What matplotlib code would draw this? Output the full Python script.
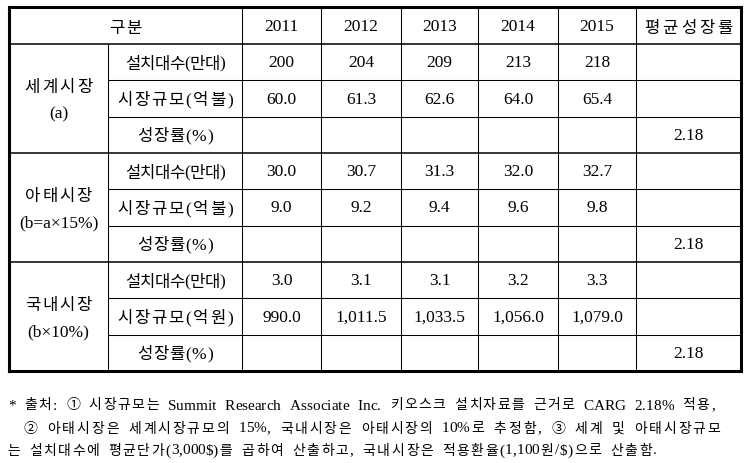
import matplotlib
matplotlib.use("Agg")
import matplotlib.pyplot as plt

plt.rcParams['font.family'] = ['Liberation Serif', 'Noto Sans CJK KR', 'DejaVu Sans']

# ---- data ----
header_label = "구분"
years = ["2011", "2012", "2013", "2014", "2015"]
avg_header = "평균성장률"
groups = [["세계시장", "(a)"], ["아태시장", "(b=a×15%)"], ["국내시장", "(b×10%)"]]
row_labels = [["설치대수(만대)", "시장규모(억불)", "성장률(%)"],
              ["설치대수(만대)", "시장규모(억불)", "성장률(%)"],
              ["설치대수(만대)", "시장규모(억원)", "성장률(%)"]]
world_units = ["200", "204", "209", "213", "218"]
world_size = ["60.0", "61.3", "62.6", "64.0", "65.4"]
apac_units = ["30.0", "30.7", "31.3", "32.0", "32.7"]
apac_size = ["9.0", "9.2", "9.4", "9.6", "9.8"]
kr_units = ["3.0", "3.1", "3.1", "3.2", "3.3"]
kr_size = ["990.0", "1,011.5", "1,033.5", "1,056.0", "1,079.0"]
growth = ["2.18", "2.18", "2.18"]
footnote = ["* 출처: ① 시장규모는 Summit Research Associate Inc. 키오스크 설치자료를 근거로 CARG 2.18% 적용,",
            "② 아태시장은 세계시장규모의 15%, 국내시장은 아태시장의 10%로 추정함, ③ 세계 및 아태시장규모",
            "는 설치대수에 평균단가(3,000$)를 곱하여 산출하고, 국내시장은 적용환율(1,100원/$)으로 산출함."]

values = [[world_units, world_size], [apac_units, apac_size], [kr_units, kr_size]]

# ---- layout ----
W, H = 752, 463
fig = plt.figure(figsize=(W / 100, H / 100), dpi=100)
ax = fig.add_axes([0, 0, 1, 1])
ax.set_xlim(0, W)
ax.set_ylim(H, 0)
ax.axis('off')
renderer = fig.canvas.get_renderer()

xcols = [9, 108, 242, 321, 401, 478, 558, 636, 741]
top, hdr = 7, 44
rowh = (371 - 44) / 9
ylines = [hdr + i * rowh for i in range(10)]
bottom = ylines[-1]

thin = 0.75
ax.plot([xcols[0]] * 2, [top, bottom], color='black', lw=2.2, solid_capstyle='projecting')
ax.plot([xcols[-1]] * 2, [top, bottom], color='black', lw=2.2, solid_capstyle='projecting')
ax.plot([xcols[1]] * 2, [hdr, bottom], color='black', lw=thin)
for x in xcols[2:-1]:
    ax.plot([x, x], [top, bottom], color='black', lw=thin)
ax.plot([xcols[0], xcols[-1]], [top, top], color='black', lw=2.2, solid_capstyle='projecting')
ax.plot([xcols[0], xcols[-1]], [bottom, bottom], color='black', lw=2.2, solid_capstyle='projecting')
for i, y in enumerate(ylines[:-1]):
    if i % 3 == 0:
        ax.plot([xcols[0], xcols[-1]], [y, y], color='black', lw=1.1)
    else:
        ax.plot([xcols[1], xcols[-1]], [y, y], color='black', lw=thin)

fam = ['Liberation Serif', 'Noto Sans CJK KR', 'DejaVu Sans']


def is_latin(c):
    return ord(c) < 0x2000


def char_width(c, fs):
    if c == ' ':
        return fs * 1.389 * 0.25
    t = ax.text(0, 0, c, fontsize=fs, family=fam, parse_math=False)
    w = t.get_window_extent(renderer).width
    t.remove()
    return w


def spaced(x0, y, s, fs_k, fs_l, width=None, center=False, space_w=2.5, latin_w=1.0):
    """Draw string s char by char; stretch to given pixel width."""
    sizes = [fs_l if is_latin(c) else fs_k for c in s]
    ws = [char_width(c, f) for c, f in zip(s, sizes)]
    weights = []
    for i in range(len(s) - 1):
        a, b = s[i], s[i + 1]
        if a == ' ' or b == ' ':
            weights.append(space_w)
        elif is_latin(a) and is_latin(b):
            weights.append(latin_w)
        else:
            weights.append(1.0)
    natural = sum(ws)
    if width is None:
        width = natural
    extra = (width - natural) / sum(weights) if weights else 0
    if center:
        x0 = x0 - width / 2
    x = x0
    for i, c in enumerate(s):
        if c != ' ':
            ax.text(x, y, c, fontsize=sizes[i], family=fam, ha='left', va='baseline',
                    parse_math=False)
        x += ws[i]
        if i < len(weights):
            x += extra * weights[i]


fs_num = 12.5
fs_kr = 12.0


def cx(i):
    return (xcols[i] + xcols[i + 1]) / 2


label_width = {"설치대수(만대)": 100, "시장규모(억불)": 116, "시장규모(억원)": 116,
               "성장률(%)": 76, "세계시장": 68, "아태시장": 67, "국내시장": 67,
               "평균성장률": 88, "구분": 33}

base_off = 5.5  # baseline offset below cell center

hy = (top + hdr) / 2 + 1.5
spaced((xcols[0] + xcols[2]) / 2, hy + base_off, header_label, fs_kr, fs_num,
       label_width[header_label], center=True)
for j, yr in enumerate(years):
    ax.text(cx(2 + j), hy, yr, ha='center', va='center', fontsize=fs_num, parse_math=False)
spaced(cx(7), hy + base_off, avg_header, fs_kr, fs_num, label_width[avg_header], center=True)

for g in range(3):
    gy0 = ylines[3 * g]
    gy1 = ylines[3 * g + 3]
    gc = (gy0 + gy1) / 2 + 2
    spaced(cx(0), gc - 14 + base_off, groups[g][0], fs_kr, fs_num,
           label_width[groups[g][0]], center=True)
    ax.text(cx(0), gc + 14, groups[g][1], ha='center', va='center', fontsize=fs_num,
            parse_math=False)
    for r in range(3):
        yc = (ylines[3 * g + r] + ylines[3 * g + r + 1]) / 2 + 1
        spaced(cx(1), yc + base_off, row_labels[g][r], fs_kr, fs_num,
               label_width[row_labels[g][r]], center=True)
        if r < 2:
            for j, v in enumerate(values[g][r]):
                ax.text(cx(2 + j), yc, v, ha='center', va='center', fontsize=fs_num,
                        parse_math=False)
        else:
            ax.text(cx(7), yc, growth[g], ha='center', va='center', fontsize=fs_num,
                    parse_math=False)

# footnote
fy = [405, 428, 450]
fx = [8, 24, 7]
fwidth = [707, 696, 650]
for k, line in enumerate(footnote):
    spaced(fx[k], fy[k] + 4.5, line, 10.0, 11.0, fwidth[k], space_w=1.6, latin_w=0.0)

fig.savefig("out.png", dpi=100)
